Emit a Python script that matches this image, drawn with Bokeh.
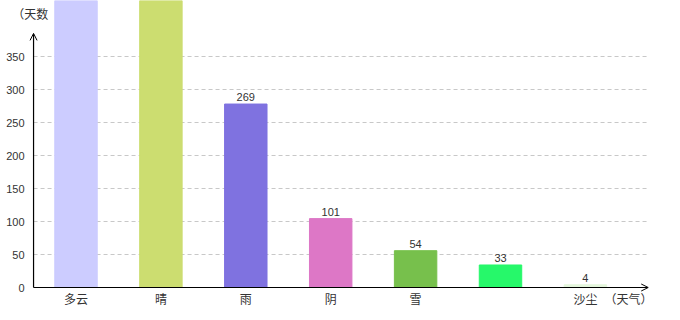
from bokeh.plotting import figure
from bokeh.models import Range1d, FixedTicker, Arrow, OpenHead, Label, ColumnDataSource
from bokeh.embed import file_html
from bokeh.resources import INLINE
from bokeh.core.properties import value

categories = ["多云", "晴", "雨", "阴", "雪", "", "沙尘"]
days = [620, 560, 269, 101, 54, 33, 4]
bar_colors = ["#ccccff", "#ccdd70", "#7f72e0", "#dd77c6", "#77c04c", "#26f86a", "#e4f6dc"]
y_ticks = [0, 50, 100, 150, 200, 250, 300, 350]
x_pos = list(range(len(categories)))

# pixel geometry (frame covers whole canvas)
W, H = 680, 320
x0_px, x_unit = 75.5, 84.9          # pixel of category 0, px per category
y0_px, y_unit = 287.0, 0.66         # pixel of value 0, px per day (axis)
bar_unit = 0.682                    # px per day used by the bars in the reference

# value labels of the two tallest bars fall above the picture in the reference
shown = [str(d) if d * bar_unit < y0_px - 20 else "" for d in days]

src = ColumnDataSource(dict(x=x_pos, top=days, color=bar_colors, label=shown))

p = figure(width=W, height=H, output_backend="svg", toolbar_location=None,
           x_range=Range1d(-x0_px / x_unit, (W - x0_px) / x_unit),
           y_range=Range1d(-(H - y0_px) / y_unit, y0_px / y_unit),
           min_border=0, min_border_left=0, min_border_right=0,
           min_border_top=0, min_border_bottom=0,
           background_fill_color="white", border_fill_color="white")
p.outline_line_color = None
p.extra_y_ranges = {"bars": Range1d(-(H - y0_px) / bar_unit, y0_px / bar_unit)}

x_left, x_right = -0.5, 6.73

# dashed horizontal grid lines
grid_y = y_ticks[1:]
p.segment(x0=[x_left] * len(grid_y), x1=[x_right] * len(grid_y), y0=grid_y, y1=grid_y,
          line_color="#c8c8c8", line_dash="4 3", line_width=1)

p.vbar(x="x", top="top", width=0.5, color="color", source=src, y_range_name="bars")
p.text(x="x", y="top", text="label", source=src, y_range_name="bars",
       text_align="center", text_baseline="bottom", y_offset=-3,
       text_font=value("Liberation Sans"), text_font_size="11px", text_color="#333333")

p.xgrid.visible = False
p.ygrid.visible = False

p.yaxis.fixed_location = x_left
p.yaxis.ticker = FixedTicker(ticks=y_ticks)
p.yaxis.major_tick_line_color = None
p.yaxis.minor_tick_line_color = None
p.yaxis.axis_line_color = None
p.yaxis.major_label_text_font = "Liberation Sans"
p.yaxis.major_label_text_font_size = "11px"
p.yaxis.major_label_text_color = "#333333"
p.yaxis.major_label_standoff = 3

p.xaxis.fixed_location = 0
p.xaxis.ticker = FixedTicker(ticks=x_pos)
p.xaxis.major_label_overrides = {i: c for i, c in zip(x_pos, categories)}
p.xaxis.major_tick_line_color = None
p.xaxis.minor_tick_line_color = None
p.xaxis.axis_line_color = None
p.xaxis.major_label_text_font = "Noto Sans CJK SC"
p.xaxis.major_label_text_font_size = "12px"
p.xaxis.major_label_text_color = "#333333"
p.xaxis.major_label_standoff = -4

p.add_layout(Arrow(end=OpenHead(size=7, line_color="black", line_width=1),
                   x_start=x_left, y_start=0, x_end=x_left, y_end=385,
                   line_color="black", line_width=1.2))
p.add_layout(Arrow(end=OpenHead(size=7, line_color="black", line_width=1),
                   x_start=x_left, y_start=0, x_end=6.74, y_end=0,
                   line_color="black", line_width=1.2))

p.add_layout(Label(x=-0.75, y=415, text="（天数", text_align="left",
                   text_baseline="middle", text_font="Noto Sans CJK SC",
                   text_font_size="12px", text_color="#333333", level="underlay"))
p.add_layout(Label(x=6.225, y=-16.7, text="（天气）", text_align="left",
                   text_baseline="middle", text_font="Noto Sans CJK SC",
                   text_font_size="12px", text_color="#333333"))

open("out.html", "w").write(file_html(p, INLINE))
